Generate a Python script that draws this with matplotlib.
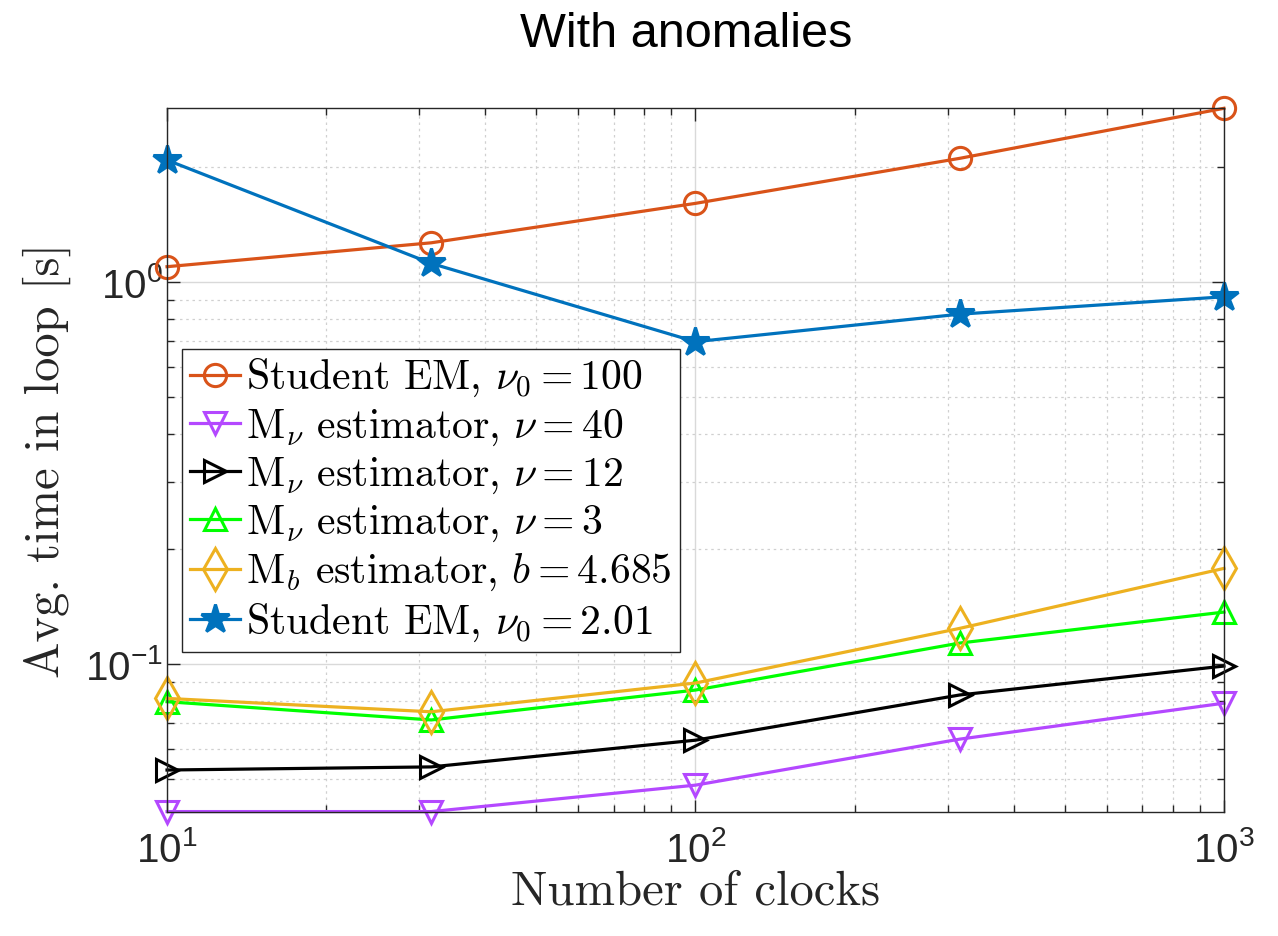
import matplotlib
matplotlib.use("Agg")
import matplotlib.pyplot as plt
from matplotlib.ticker import LogLocator, NullFormatter

plt.rcParams["font.family"] = ["Liberation Sans", "DejaVu Sans"]
plt.rcParams["mathtext.fontset"] = "cm"

# number of clocks on the x axis
clocks = [10, 31.62, 100, 316.2, 1000]

# average time in loop [s] per estimator
student_em_100 = [1.097, 1.267, 1.607, 2.108, 2.850]
m_nu_40 = [0.0411, 0.0411, 0.0482, 0.0636, 0.0790]
m_nu_12 = [0.0528, 0.0538, 0.0632, 0.0830, 0.0988]
m_nu_3 = [0.0797, 0.0714, 0.0855, 0.1135, 0.1368]
m_b_4685 = [0.0813, 0.0750, 0.0892, 0.1240, 0.1780]
student_em_201 = [2.086, 1.119, 0.698, 0.824, 0.915]

labels = [
    r"Student EM, $\nu_0 = 100$",
    r"M$_\nu$ estimator, $\nu = 40$",
    r"M$_\nu$ estimator, $\nu = 12$",
    r"M$_\nu$ estimator, $\nu = 3$",
    r"M$_b$ estimator, $b = 4.685$",
    r"Student EM, $\nu_0 = 2.01$",
]

# (values, colour, marker, marker size, filled)
SERIES = [
    (student_em_100, "#D95319", "o", 16, False),
    (m_nu_40, "#B448FF", "v", 16, False),
    (m_nu_12, "#000000", ">", 16, False),
    (m_nu_3, "#00FF00", "^", 16, False),
    (m_b_4685, "#EDB120", "d", 21, False),
    (student_em_201, "#0072BD", "*", 21, True),
]

SERIF = "cmr10"

fig = plt.figure(figsize=(12.78, 9.36), dpi=100)
ax = fig.add_axes([0.1307, 0.1325, 0.9577 - 0.1307, 0.8846 - 0.1325])

for (vals, color, marker, ms, filled), label in zip(SERIES, labels):
    ax.plot(clocks, vals, color=color, marker=marker, markersize=ms,
            markeredgewidth=2.2, linewidth=2.3, clip_on=False,
            markerfacecolor=color if filled else "none", label=label)

ax.set_xscale("log")
ax.set_yscale("log")
ax.set_xlim(10, 1000)
ax.set_ylim(0.0410, 2.855)

ax.yaxis.set_major_locator(LogLocator(base=10, numticks=10))
ax.yaxis.set_minor_locator(LogLocator(base=10, subs=range(2, 10), numticks=20))
ax.yaxis.set_minor_formatter(NullFormatter())
ax.xaxis.set_minor_formatter(NullFormatter())

ax.grid(which="major", color="#d9d9d9", linestyle="-", linewidth=1.0)
ax.grid(which="minor", color="#d0d0d0", linestyle=(0, (2, 3)), linewidth=0.9)
ax.set_axisbelow(True)

ax.tick_params(which="both", direction="in", top=True, right=True,
               color="#262626", width=1.0)
ax.tick_params(which="major", length=9, labelsize=29, labelcolor="#262626")
ax.tick_params(axis="x", which="major", pad=14)
ax.tick_params(axis="y", which="major", pad=3)
ax.tick_params(which="minor", length=5)
for spine in ax.spines.values():
    spine.set_color("#262626")
    spine.set_linewidth(1.0)

ax.set_xlabel("Number of clocks", fontsize=35, fontfamily=SERIF, labelpad=0,
              color="#262626")
ax.set_ylabel("Avg. time in loop [s]", fontsize=35, fontfamily=SERIF,
              labelpad=10, color="#262626")
fig.text(0.537, 1 - 47 / 936, "With anomalies", fontsize=35, ha="center",
         va="baseline")

leg = ax.legend(loc="upper left", bbox_to_anchor=(0.014, 0.658),
                prop={"family": SERIF, "size": 30},
                handlelength=1.2, handletextpad=0.14, borderpad=0.2,
                labelspacing=0.19, borderaxespad=0, fancybox=False,
                framealpha=1, edgecolor="#262626")
leg.get_frame().set_linewidth(1.0)

fig.savefig("out.png", dpi=100)
